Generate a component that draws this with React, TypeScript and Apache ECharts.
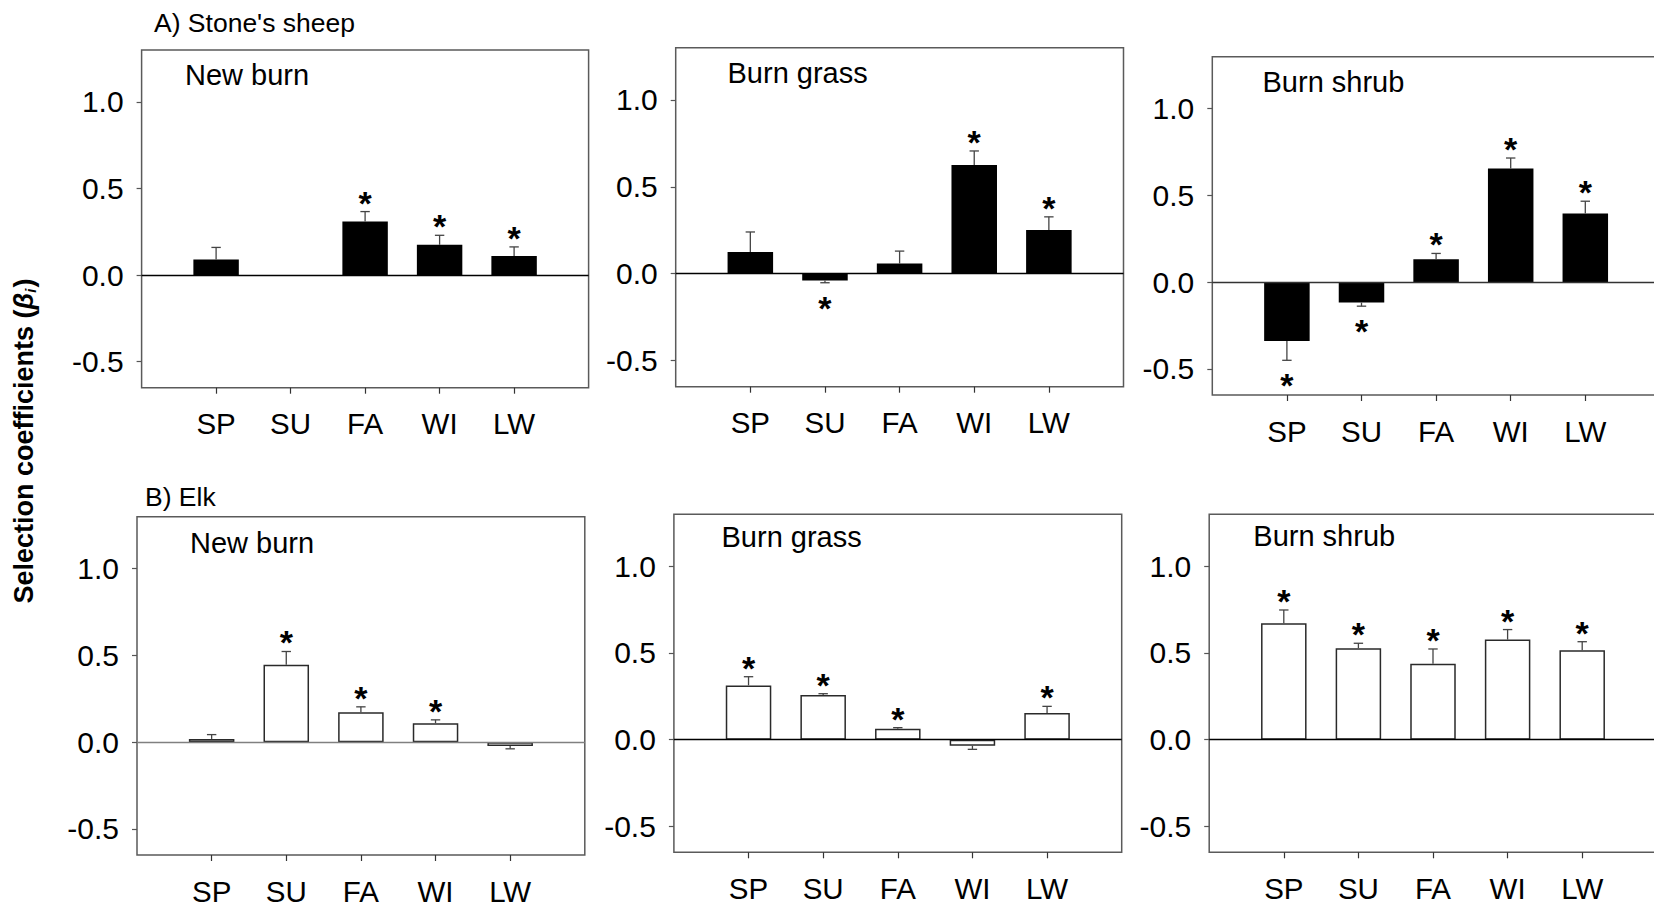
import React, { useEffect, useRef } from "react";
import * as echarts from "echarts";

// ---------- data ----------
const seasons = ["SP", "SU", "FA", "WI", "LW"];
const yTickValues = [-0.5, 0, 0.5, 1.0];

// A) Stone's sheep
const sheepNewBurn = [0.09, 0, 0.31, 0.175, 0.11];
const sheepNewBurnSE = [0.07, 0, 0.057, 0.055, 0.053];
const sheepNewBurnSig = [0, 0, 1, 1, 1];

const sheepBurnGrass = [0.125, -0.039, 0.058, 0.625, 0.252];
const sheepBurnGrassSE = [0.115, 0.013, 0.072, 0.081, 0.075];
const sheepBurnGrassSig = [0, 1, 0, 1, 1];

const sheepBurnShrub = [-0.339, -0.117, 0.133, 0.656, 0.396];
const sheepBurnShrubSE = [0.111, 0.021, 0.033, 0.06, 0.071];
const sheepBurnShrubSig = [1, 1, 1, 1, 1];

// B) Elk
const elkNewBurn = [0.019, 0.447, 0.173, 0.11, -0.021];
const elkNewBurnSE = [0.025, 0.076, 0.031, 0.019, 0.017];
const elkNewBurnSig = [0, 1, 1, 1, 0];

const elkBurnGrass = [0.313, 0.257, 0.063, -0.035, 0.154];
const elkBurnGrassSE = [0.05, 0.008, 0.006, 0.021, 0.038];
const elkBurnGrassSig = [1, 1, 1, 0, 1];

const elkBurnShrub = [0.671, 0.527, 0.438, 0.577, 0.515];
const elkBurnShrubSE = [0.077, 0.029, 0.085, 0.058, 0.05];
const elkBurnShrubSig = [1, 1, 1, 1, 1];

const FONT = "'Liberation Sans', Arial, Helvetica, sans-serif";

type Panel = {
  title: string;
  values: number[];
  se: number[];
  sig: number[];
  filled: boolean;
  zeroColor: string;
  left: number;
  top: number;
  width: number;
  height: number;
  titleX: number;
  titleY: number;
};

const panels: Panel[] = [
  { title: "New burn", values: sheepNewBurn, se: sheepNewBurnSE, sig: sheepNewBurnSig, filled: true, zeroColor: "#000",
    left: 141.6, top: 50, width: 447, height: 337.7, titleX: 185, titleY: 75 },
  { title: "Burn grass", values: sheepBurnGrass, se: sheepBurnGrassSE, sig: sheepBurnGrassSig, filled: true, zeroColor: "#000",
    left: 675.7, top: 47.7, width: 447.8, height: 339, titleX: 727.5, titleY: 72.7 },
  { title: "Burn shrub", values: sheepBurnShrub, se: sheepBurnShrubSE, sig: sheepBurnShrubSig, filled: true, zeroColor: "#333",
    left: 1212.3, top: 56.7, width: 447.6, height: 338.3, titleX: 1262.5, titleY: 81.7 },
  { title: "New burn", values: elkNewBurn, se: elkNewBurnSE, sig: elkNewBurnSig, filled: false, zeroColor: "#808080",
    left: 137, top: 516.7, width: 447.8, height: 338.3, titleX: 190, titleY: 543.3 },
  { title: "Burn grass", values: elkBurnGrass, se: elkBurnGrassSE, sig: elkBurnGrassSig, filled: false, zeroColor: "#000",
    left: 673.9, top: 514.3, width: 447.8, height: 338, titleX: 721.5, titleY: 536.7 },
  { title: "Burn shrub", values: elkBurnShrub, se: elkBurnShrubSE, sig: elkBurnShrubSig, filled: false, zeroColor: "#000",
    left: 1209.2, top: 514.3, width: 447.6, height: 338, titleX: 1253.3, titleY: 536 },
];

function buildOption() {
  const axisCats = ["", ...seasons, ""];
  const grid: any[] = [];
  const xAxis: any[] = [];
  const yAxis: any[] = [];
  const series: any[] = [];
  const graphic: any[] = [];

  panels.forEach((p, k) => {
    grid.push({
      left: p.left, top: p.top, width: p.width, height: p.height,
      show: true, borderColor: "#5a5a5a", borderWidth: 1.5, backgroundColor: "transparent",
      containLabel: false,
    });
    xAxis.push({
      gridIndex: k, type: "category", data: axisCats, boundaryGap: false, position: "bottom",
      axisLine: { show: false, onZero: false },
      axisTick: {
        show: true, inside: false, length: 6,
        interval: (i: number) => i >= 1 && i <= seasons.length,
        lineStyle: { color: "#333", width: 1.2 },
      },
      axisLabel: {
        interval: 0, margin: 21, fontSize: 29.5, color: "#000", fontFamily: FONT,
      },
      splitLine: { show: false },
    });
    yAxis.push({
      gridIndex: k, type: "value", min: -0.65, max: 1.3, position: "left",
      axisLine: { show: false, onZero: false },
      axisTick: {
        show: true, inside: false, length: 5, customValues: yTickValues,
        lineStyle: { color: "#555", width: 1.2 },
      },
      axisLabel: {
        customValues: yTickValues, margin: 18, fontSize: 30, color: "#000", fontFamily: FONT,
        formatter: (v: number) => v.toFixed(1),
      },
      splitLine: { show: false },
    });
    series.push({
      type: "bar", xAxisIndex: k, yAxisIndex: k,
      data: p.values.map((v, i) => [i + 1, v]),
      barWidth: "61%",
      itemStyle: p.filled
        ? { color: "#000", borderWidth: 0 }
        : { color: "#fff", borderColor: "#2a2a2a", borderWidth: 1.5 },
      markLine: {
        silent: true, symbol: "none", label: { show: false },
        lineStyle: { color: p.zeroColor, width: 1.3, type: "solid" },
        data: [{ yAxis: 0 }],
      },
      z: 2,
    });
    series.push({
      type: "custom", xAxisIndex: k, yAxisIndex: k,
      data: p.values.map((v, i) => [i + 1, v, p.se[i], p.sig[i]]),
      encode: { x: 0, y: 1 },
      z: 3,
      renderItem: (params: any, api: any) => {
        const idx = api.value(0);
        const v = api.value(1);
        const se = api.value(2);
        const sig = api.value(3);
        const dir = v < 0 ? -1 : 1;
        const base = api.coord([idx, v]);
        const end = api.coord([idx, v + dir * se]);
        const children: any[] = [];
        if (se > 0) {
          children.push({
            type: "line",
            shape: { x1: base[0], y1: base[1], x2: end[0], y2: end[1] },
            style: { stroke: "#444", lineWidth: 1.3 },
          });
          children.push({
            type: "line",
            shape: { x1: end[0] - 4.7, y1: end[1], x2: end[0] + 4.7, y2: end[1] },
            style: { stroke: "#444", lineWidth: 1.3 },
          });
        }
        if (sig) {
          children.push({
            type: "text",
            x: end[0],
            y: dir > 0 ? end[1] - 9 : end[1] + 25,
            style: {
              text: "*", fontSize: 34, fontWeight: "bold", fontFamily: FONT,
              fill: "#000", align: "center", verticalAlign: "middle",
            },
          });
        }
        return { type: "group", children };
      },
    });
    graphic.push({
      type: "text", x: p.titleX, y: p.titleY,
      style: {
        text: p.title, fontSize: 29, fontFamily: FONT, fill: "#000",
        align: "left", verticalAlign: "middle",
      },
    });
  });

  graphic.push({
    type: "text", x: 154, y: 23,
    style: { text: "A) Stone's sheep", fontSize: 26.5, fontFamily: FONT, fill: "#000", align: "left", verticalAlign: "middle" },
  });
  graphic.push({
    type: "text", x: 145, y: 496.7,
    style: { text: "B) Elk", fontSize: 26.5, fontFamily: FONT, fill: "#000", align: "left", verticalAlign: "middle" },
  });
  graphic.push({
    type: "text", x: 24, y: 441, rotation: Math.PI / 2,
    style: {
      text: "Selection coefficients ({beta|β}{sub|i})",
      fontSize: 27, fontWeight: "bold", fontFamily: FONT, fill: "#000",
      align: "center", verticalAlign: "middle",
      rich: {
        beta: { fontSize: 27, fontWeight: "bold", fontStyle: "italic", fontFamily: FONT, fill: "#000" },
        sub: { fontSize: 15, fontWeight: "bold", fontStyle: "italic", fontFamily: FONT, fill: "#000", verticalAlign: "bottom", padding: [10, 1, 0, 0] },
      },
    },
  });

  return {
    animation: false,
    backgroundColor: "#fff",
    grid, xAxis, yAxis, series, graphic,
  };
}

export default function App() {
  const ref = useRef<HTMLDivElement>(null);
  useEffect(() => {
    if (!ref.current) return;
    const chart = echarts.init(ref.current, null, { renderer: "svg" });
    chart.setOption(buildOption() as any);
    return () => chart.dispose();
  }, []);
  return (
    <div style={{ position: "fixed", left: 0, top: 0, width: 1654, height: 906, overflow: "hidden", background: "#fff" }}>
      <div ref={ref} style={{ width: 1720, height: 906 }} />
    </div>
  );
}
